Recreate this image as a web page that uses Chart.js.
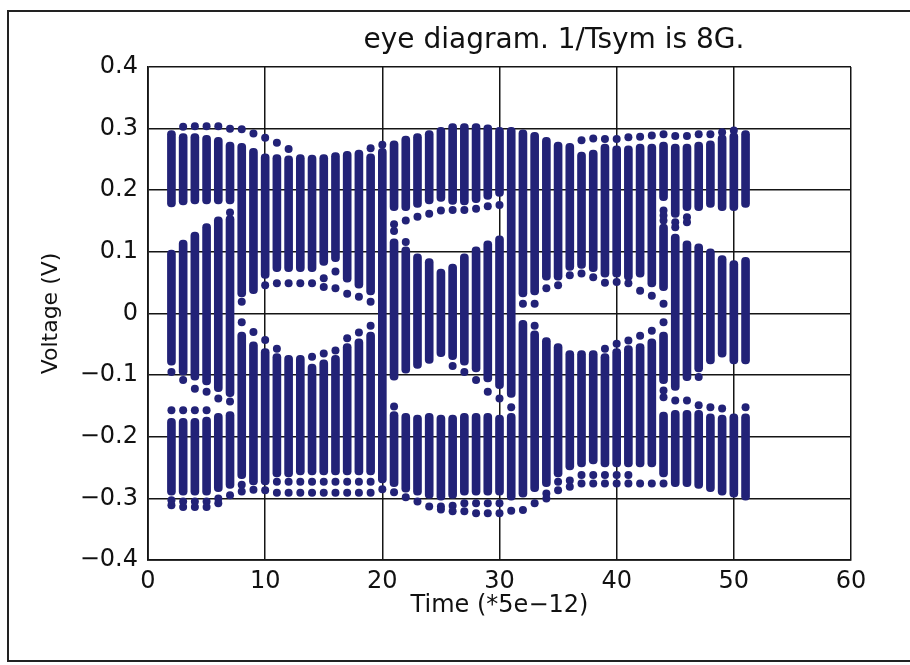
<!DOCTYPE html>
<html>
<head>
<meta charset="utf-8">
<script src="https://cdn.jsdelivr.net/npm/chart.js@4.4.1/dist/chart.umd.min.js"></script>
<style>
  html, body { margin: 0; padding: 0; background: #ffffff; }
  #wrap { width: 910px; height: 665px; }
</style>
</head>
<body>
<div id="wrap"><canvas id="eye" width="910" height="665"></canvas></div>
<script>
// Sample instants (units of 5 ps)
const timeSteps = [2,3,4,5,6,7,8,9,10,11,12,13,14,15,16,17,18,19,20,21,22,23,24,25,26,
                   27,28,29,30,31,32,33,34,35,36,37,38,39,40,41,42,43,44,45,46,47,48,49,50,51];

// Dense sample clusters per instant, as [low, high] voltage spans (V)
const upperHi = [0.297,0.292,0.292,0.289,0.286,0.278,0.276,0.268,0.259,0.258,0.256,0.258,0.257,0.258,0.261,0.263,0.265,0.259,0.268,0.280,0.288,0.292,0.297,0.302,0.308,
                 0.308,0.308,0.306,0.302,0.302,0.298,0.294,0.286,0.278,0.276,0.262,0.265,0.275,0.272,0.272,0.275,0.275,0.278,0.275,0.275,0.278,0.280,0.290,0.293,0.297];
const upperLo = [0.173,0.176,0.178,0.178,0.178,0.178,0.027,0.032,0.057,0.068,0.068,0.068,0.068,0.078,0.084,0.051,0.041,0.030,-0.275,0.167,0.167,0.172,0.178,0.182,0.177,
                 0.176,0.180,0.185,0.190,-0.136,0.027,0.030,0.054,0.054,0.070,0.073,0.068,0.059,0.059,0.054,0.059,0.043,0.183,0.156,0.167,0.167,0.172,0.167,0.167,0.172];

const middleHi = [0.103,0.119,0.132,0.146,0.157,0.159,-0.030,-0.046,-0.057,-0.065,-0.068,-0.068,-0.082,-0.075,-0.068,-0.049,-0.041,-0.030,null,0.121,0.108,0.097,0.089,0.072,0.080,
                  0.097,0.108,0.118,0.126,null,-0.011,-0.028,-0.039,-0.049,-0.060,-0.060,-0.060,-0.065,-0.057,-0.052,-0.049,-0.041,0.145,0.129,0.118,0.113,0.105,0.094,0.086,0.091];
const middleLo = [-0.084,-0.100,-0.108,-0.116,-0.127,-0.135,-0.268,-0.278,-0.278,-0.265,-0.265,-0.262,-0.262,-0.262,-0.262,-0.262,-0.262,-0.262,null,-0.108,-0.097,-0.089,-0.081,-0.070,-0.075,
                  -0.084,-0.095,-0.111,-0.122,null,-0.298,-0.289,-0.281,-0.265,-0.254,-0.249,-0.244,-0.249,-0.249,-0.249,-0.249,-0.249,0.037,-0.125,-0.109,-0.095,-0.082,-0.071,-0.082,-0.082];

const lowerHi = [-0.170,-0.170,-0.170,-0.168,-0.162,-0.159,null,null,null,null,null,null,null,null,null,null,null,null,null,-0.159,-0.162,-0.165,-0.162,-0.165,-0.165,
                 -0.162,-0.162,-0.162,-0.165,-0.162,null,null,null,null,null,null,null,null,null,null,null,null,-0.030,-0.157,-0.157,-0.157,-0.163,-0.165,-0.163,-0.163];
const lowerLo = [-0.295,-0.295,-0.295,-0.295,-0.289,-0.284,null,null,null,null,null,null,null,null,null,null,null,null,null,-0.281,-0.290,-0.295,-0.300,-0.303,-0.300,
                 -0.295,-0.295,-0.295,-0.295,-0.303,null,null,null,null,null,null,null,null,null,null,null,null,-0.114,-0.281,-0.281,-0.284,-0.289,-0.295,-0.298,-0.303];

const bottomHi = [null,null,null,null,null,null,null,null,null,null,null,null,null,null,null,null,null,null,null,null,null,null,null,null,null,
                  null,null,null,null,null,null,null,null,null,null,null,null,null,null,null,null,null,-0.160,null,null,null,null,null,null,null];
const bottomLo = [null,null,null,null,null,null,null,null,null,null,null,null,null,null,null,null,null,null,null,null,null,null,null,null,null,
                  null,null,null,null,null,null,null,null,null,null,null,null,null,null,null,null,null,-0.265,null,null,null,null,null,null,null];

// Isolated samples at the edges of the clusters
const dotTime = [3,4,5,6,7,8,9,10,11,12,19,20,37,38,39,40,41,42,43,44,45,46,47,48,49,50,
                 7,21,21,22,22,23,24,25,26,27,28,29,30,44,44,44,45,45,46,46,
                 8,10,11,12,13,14,15,15,16,16,17,18,19,
                 8,9,10,11,14,15,16,17,18,19,
                 32,33,34,35,36,37,38,39,40,41,42,43,44,
                 33,39,40,41,42,43,44,
                 2,3,4,5,6,7,2,3,4,5,
                 21,26,27,28,29,30,31,
                 44,44,45,46,47,47,48,49,51,
                 2,2,3,3,4,4,5,5,6,6,7,8,8,9,10,11,11,12,12,13,13,14,14,15,15,16,16,17,17,18,18,19,19,20,
                 21,22,23,24,25,25,26,26,27,27,28,28,29,29,30,30,31,32,33,34,34,35,35,36,36,37,37,38,38,
                 39,39,40,40,41,41,42,43,44];
const dotVolt = [0.303,0.304,0.304,0.304,0.300,0.299,0.292,0.285,0.277,0.267,0.268,0.274,0.281,0.284,0.283,0.283,0.286,0.287,0.289,0.291,0.288,0.288,0.291,0.291,0.294,0.297,
                 0.164,0.145,0.134,0.151,0.116,0.157,0.162,0.167,0.168,0.168,0.170,0.174,0.176,0.167,0.159,0.151,0.148,0.140,0.156,0.148,
                 0.019,0.046,0.049,0.049,0.049,0.049,0.057,0.043,0.068,0.041,0.032,0.027,0.019,
                 -0.014,-0.030,-0.043,-0.057,-0.070,-0.065,-0.060,-0.040,-0.031,-0.020,
                 0.016,0.016,0.041,0.046,0.062,0.065,0.059,0.050,0.051,0.049,0.037,0.029,0.016,
                 -0.020,-0.057,-0.049,-0.044,-0.036,-0.028,-0.014,
                 -0.095,-0.108,-0.122,-0.127,-0.138,-0.143,-0.157,-0.157,-0.157,-0.157,
                 -0.151,-0.085,-0.095,-0.108,-0.127,-0.138,-0.152,
                 -0.125,-0.136,-0.141,-0.141,-0.103,-0.149,-0.152,-0.154,-0.152,
                 -0.303,-0.311,-0.305,-0.314,-0.305,-0.314,-0.305,-0.314,-0.300,-0.308,-0.295,-0.278,-0.289,-0.286,-0.287,-0.273,-0.291,-0.273,-0.291,-0.273,-0.291,-0.273,-0.291,-0.273,-0.291,-0.273,-0.291,-0.273,-0.291,-0.273,-0.291,-0.273,-0.291,-0.285,
                 -0.290,-0.298,-0.305,-0.313,-0.313,-0.318,-0.312,-0.321,-0.308,-0.321,-0.308,-0.324,-0.308,-0.324,-0.308,-0.324,-0.320,-0.319,-0.308,-0.292,-0.300,-0.273,-0.287,-0.271,-0.281,-0.262,-0.276,-0.262,-0.276,
                 -0.262,-0.276,-0.262,-0.276,-0.262,-0.276,-0.276,-0.276,-0.276];

// Axis tick text
const xTickLabels = ['0','10','20','30','40','50','60'];
const yTickLabels = ['\u22120.4','\u22120.3','\u22120.2','\u22120.1','0','0.1','0.2','0.3','0.4'];

const chartTitle = 'eye diagram. 1/Tsym is 8G.';
const xTitle = 'Time (*5e\u221212)';
const yTitle = 'Voltage (V)';

const NAVY = '#222277';
const FONT = '"DejaVu Sans", "Liberation Sans", Arial, sans-serif';

function spans(lo, hi) {
  const out = [];
  timeSteps.forEach((t, i) => {
    if (lo[i] !== null && hi[i] !== null) out.push({ x: t, y: [lo[i], hi[i]] });
  });
  return out;
}

function loosePoints() {
  return dotTime.map((t, i) => ({ x: t, y: dotVolt[i] }));
}

// Page frame and the title, drawn around the plot
const framePlugin = {
  id: 'frame',
  beforeDraw(chart) {
    const c = chart.ctx;
    c.save();
    c.fillStyle = '#ffffff';
    c.fillRect(0, 0, chart.width, chart.height);
    c.restore();
  },
  afterDraw(chart) {
    const c = chart.ctx;
    c.save();
    c.strokeStyle = '#222222';
    c.lineWidth = 2;
    c.beginPath();
    c.moveTo(910, 11);
    c.lineTo(8, 11);
    c.lineTo(8, 661);
    c.lineTo(910, 661);
    c.stroke();
    c.fillStyle = '#111111';
    c.font = '28px ' + FONT;
    c.textAlign = 'center';
    c.textBaseline = 'middle';
    c.fillText(chartTitle, 554, 41);
    c.restore();
  }
};

const barStyle = {
  backgroundColor: NAVY,
  borderWidth: 0,
  borderRadius: 4,
  borderSkipped: false,
  barThickness: 8,
  grouped: false
};

new Chart(document.getElementById('eye'), {
  type: 'bar',
  data: {
    datasets: [
      Object.assign({ label: 'upper', data: spans(upperLo, upperHi) }, barStyle),
      Object.assign({ label: 'middle', data: spans(middleLo, middleHi) }, barStyle),
      Object.assign({ label: 'lower', data: spans(lowerLo, lowerHi) }, barStyle),
      Object.assign({ label: 'bottom', data: spans(bottomLo, bottomHi) }, barStyle),
      {
        type: 'scatter',
        label: 'edges',
        data: loosePoints(),
        backgroundColor: NAVY,
        borderWidth: 0,
        pointRadius: 4,
        pointHoverRadius: 4
      }
    ]
  },
  options: {
    responsive: false,
    animation: false,
    events: [],
    layout: { padding: { left: 0, right: 59, top: 67, bottom: 40 } },
    plugins: {
      legend: { display: false },
      title: { display: false },
      tooltip: { enabled: false }
    },
    scales: {
      x: {
        type: 'linear',
        min: 0,
        max: 60,
        offset: false,
        afterFit(scale) { scale.height = 65; },
        ticks: {
          stepSize: 10,
          padding: 7,
          color: '#111111',
          font: { family: FONT, size: 24 },
          maxRotation: 0,
          callback(value) { return xTickLabels[Math.round(value / 10)]; }
        },
        grid: { color: '#151515', lineWidth: 1.5, drawTicks: false, offset: false },
        border: { color: '#151515', width: 1.8 },
        title: {
          display: true,
          text: xTitle,
          color: '#111111',
          font: { family: FONT, size: 24 },
          padding: { top: 0, bottom: 5 }
        }
      },
      y: {
        min: -0.4,
        max: 0.4,
        afterFit(scale) { scale.width = 148; },
        ticks: {
          stepSize: 0.1,
          padding: 10,
          color: '#111111',
          font: { family: FONT, size: 24 },
          callback(value) { return yTickLabels[Math.round((value + 0.4) * 10)]; }
        },
        grid: { color: '#151515', lineWidth: 1.5, drawTicks: false },
        border: { color: '#151515', width: 1.8 },
        title: {
          display: true,
          text: yTitle,
          color: '#111111',
          font: { family: FONT, size: 22 },
          padding: { top: 38, bottom: 0 }
        }
      }
    }
  },
  plugins: [framePlugin]
});
</script>
</body>
</html>
